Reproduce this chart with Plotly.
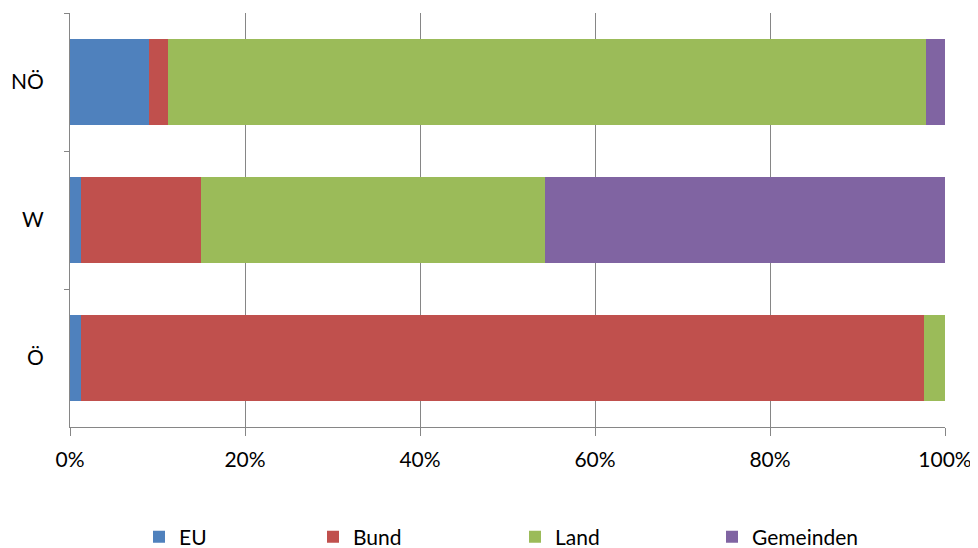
import plotly.graph_objects as go

categories = ["NÖ", "W", "Ö"]
series_names = ["EU", "Bund", "Land", "Gemeinden"]
eu = [9.0, 1.3, 1.2]
bund = [2.2, 13.7, 96.4]
land = [86.6, 39.3, 2.4]
gemeinden = [2.2, 45.7, 0.0]
colors = ["#4F81BD", "#C0504D", "#9BBB59", "#8064A2"]
x_ticks = [0, 20, 40, 60, 80, 100]
x_tick_labels = ["0%", "20%", "40%", "60%", "80%", "100%"]

font_family = "Lato, 'Open Sans', sans-serif"
legend_ids = ["legend", "legend2", "legend3", "legend4"]
legend_x_px = [131, 305, 507, 704]

fig = go.Figure()
for name, vals, col, lid in zip(series_names, [eu, bund, land, gemeinden], colors, legend_ids):
    fig.add_trace(go.Bar(
        y=categories, x=vals, name=name, orientation="h",
        marker=dict(color=col, line=dict(width=0)),
        legend=lid,
    ))

layout_legends = {}
for lid, px in zip(legend_ids, legend_x_px):
    layout_legends[lid] = dict(
        x=px / 978, xanchor="left", xref="container",
        y=(548 - 529) / 548, yanchor="middle", yref="container",
        font=dict(size=21), bgcolor="rgba(0,0,0,0)",
        itemwidth=30,
    )

fig.update_layout(
    barmode="stack",
    barnorm="percent",
    bargap=0.375,
    width=978, height=548,
    margin=dict(l=62, r=41, t=5, b=129, autoexpand=False),
    paper_bgcolor="white", plot_bgcolor="white",
    font=dict(family=font_family, size=21, color="black"),
    showlegend=True,
    xaxis=dict(
        range=[0, 100], tickvals=x_ticks, ticktext=x_tick_labels,
        showgrid=True, gridcolor="#868686", gridwidth=1,
        showline=True, linecolor="#868686", linewidth=1,
        ticks="outside", ticklen=8, tickcolor="#868686",
        zeroline=False, automargin=False, ticklabelstandoff=6,
    ),
    yaxis=dict(
        categoryorder="array", categoryarray=categories, autorange="reversed",
        tickson="boundaries", ticks="outside", ticklen=5, tickcolor="#868686",
        showline=True, linecolor="#868686", linewidth=1,
        showgrid=False, ticklabelstandoff=21, automargin=False,
    ),
    **layout_legends,
)

fig.write_html("out.html")
